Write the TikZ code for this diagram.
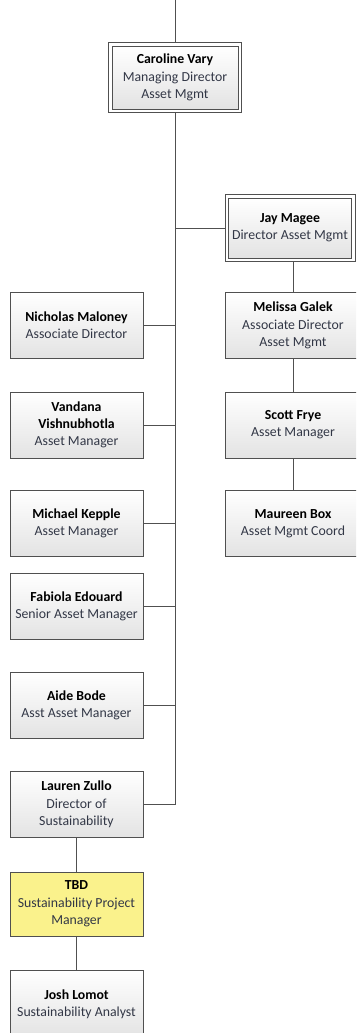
\documentclass[tikz,border=0pt]{standalone}
\usepackage{fontspec}
\setmainfont{Carlito}
\definecolor{edge}{RGB}{80,80,80}
\definecolor{titletxt}{RGB}{50,55,70}
\definecolor{tbdyellow}{RGB}{250,242,140}
\tikzset{
  person/.style={draw=edge, line width=0.9pt, top color=white, bottom color=black!11,
    minimum height=66pt, inner sep=0pt, align=center,
    font=\fontsize{13.8}{17.3}\selectfont, text=titletxt},
  leftbox/.style={person, minimum width=133pt},
  rightbox/.style={person, minimum width=136pt},
  outerline/.style={draw=edge, line width=0.9pt},
  link/.style={draw=edge, line width=0.9pt},
}
\newcommand{\nm}[1]{{\color{black}\bfseries #1}}
\begin{document}
\begin{tikzpicture}[x=1pt,y=-1pt]
\useasboundingbox (0,0) rectangle (356,1033);
\clip (0,0) rectangle (356,1033);
\fill[white] (0,0) rectangle (356,1033);
% top node
\node[person, minimum width=126pt, minimum height=63pt] (car) at (175,77.5)
  {\nm{Caroline Vary}\\Managing Director\\Asset Mgmt};
\draw[outerline] ([shift={(-3pt,3pt)}]car.north west) rectangle ([shift={(3pt,-3pt)}]car.south east);
\coordinate (topin) at (175,0);
% right column
\node[person, minimum width=123pt, minimum height=60pt] (jay) at (290,228)
  {\nm{Jay Magee}\\Director Asset Mgmt};
\draw[outerline] ([shift={(-3pt,3pt)}]jay.north west) rectangle ([shift={(3pt,-3pt)}]jay.south east);
\node[rightbox] (mel) at (293,325.5) {\nm{Melissa Galek}\\Associate Director\\Asset Mgmt};
\node[rightbox] (sco) at (293,425) {\nm{Scott Frye}\\Asset Manager};
\node[rightbox] (mau) at (293,523.5) {\nm{Maureen Box}\\Asset Mgmt Coord};
% left column
\node[leftbox] (nic) at (76.5,325.5) {\nm{Nicholas Maloney}\\Associate Director};
\node[leftbox] (van) at (76.5,425) {\nm{Vandana}\\\nm{Vishnubhotla}\\Asset Manager};
\node[leftbox] (mic) at (76.5,523.5) {\nm{Michael Kepple}\\Asset Manager};
\node[leftbox] (fab) at (76.5,606.5) {\nm{Fabiola Edouard}\\Senior Asset Manager};
\node[leftbox] (aid) at (76.5,705.5) {\nm{Aide Bode}\\Asst Asset Manager};
\node[leftbox] (lau) at (76.5,804.5) {\nm{Lauren Zullo}\\Director of\\Sustainability};
\node[leftbox, top color=tbdyellow, bottom color=tbdyellow, minimum height=64pt] (tbd) at (76.5,904)
  {\nm{TBD}\\Sustainability Project\\Manager};
\node[leftbox, minimum height=68pt] (jos) at (76.5,1004) {\nm{Josh Lomot}\\Sustainability Analyst};
% connectors
\draw[link] (topin) -- ([yshift=3pt]car.north);
\draw[link] ([yshift=-3pt]car.south) |- (lau.east);
\foreach \n in {nic,van,mic,fab,aid} {
  \draw[link] (\n.east) -- (\n.east -| car.south);
}
\draw[link] (car.south |- jay.west) -- ([xshift=-3pt]jay.west);
\draw[link] ([yshift=-3pt]jay.south -| mel.north) -- (mel.north);
\draw[link] (mel.south) -- (sco.north);
\draw[link] (sco.south) -- (mau.north);
\draw[link] (lau.south) -- (tbd.north);
\draw[link] (tbd.south) -- (jos.north);
\end{tikzpicture}
\end{document}
